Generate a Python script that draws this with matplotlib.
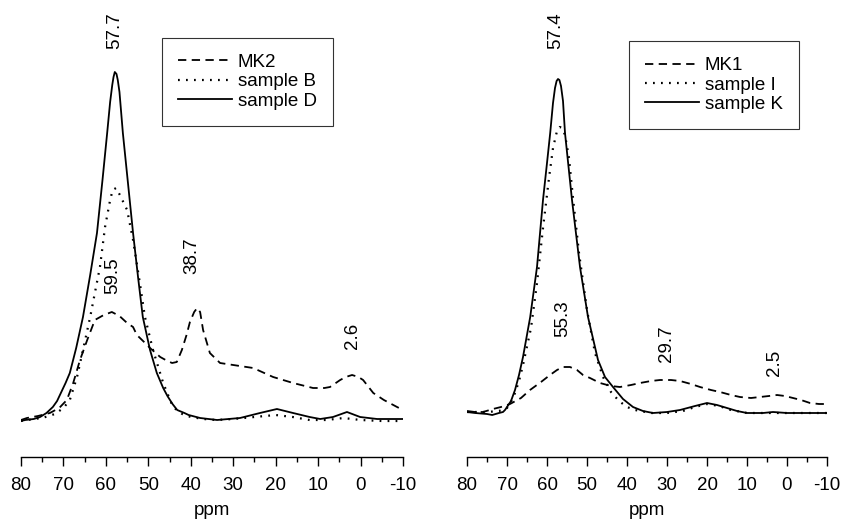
import matplotlib
matplotlib.use("Agg")
import matplotlib.pyplot as plt
from matplotlib.ticker import MultipleLocator

plt.rcParams["font.family"] = ["Liberation Sans", "DejaVu Sans"]
plt.rcParams["axes.unicode_minus"] = False

# ----- D A T A ----- (intensities in arbitrary units)

# left panel
mk2_ppm = [80, 78.6, 76, 73.2, 71, 69.2, 67.7, 66.1, 64.4, 62.6, 60.5, 58.6, 56.8, 55.0, 53.6, 52.7, 51, 49.6,
           47.2, 45.5, 44.4, 43.3, 42.1, 41, 40.2, 39.2, 38.5, 37.8, 37.1, 35.5, 33.1, 30.0, 25.3, 20.6, 15.9,
           11.2, 8.5, 7.2, 4.8, 3.5, 2.0, 0.5, -0.6, -3.0, -5.5, -8.6, -10]
mk2_int = [0, 2, 4, 7, 12, 20, 37, 60, 80, 100, 105, 108, 104, 97, 93, 85, 78, 72,
           63, 59, 57, 58, 70, 85, 98, 108, 112, 108, 90, 67, 57, 55, 52, 43, 37,
           32, 32, 33, 40, 43, 45, 43, 40, 27, 20, 13, 10]

b_ppm = [80, 77, 75, 72, 70, 68.5, 66.8, 65.4, 63.7, 62.6, 61.4, 60.2, 59.0, 58.4, 57.6, 56.7, 55.0, 53.6,
         52.0, 50.8, 48.9, 46.5, 44.2, 42, 40, 37, 34, 30, 25, 20, 16, 12, 8, 4, 0, -5, -10]
b_int = [-1, 1, 2, 6, 12, 20, 43, 70, 103, 127, 153, 193, 220, 230, 232, 225, 210, 180,
         137, 103, 70, 37, 13, 6, 3, 1, 0, 1, 3, 5, 3, 0, 0, 2, 0, -1, -1]

d_ppm = [80, 79, 77, 75.5, 74, 72.5, 71.5, 70.5, 69.5, 68.5, 67, 65.4, 63.7, 62.1, 60.8, 59.7, 59, 58.5, 58.2,
         57.9, 57.5, 57.2, 56.8, 56, 54.8, 53.6, 52.4, 51.3, 49.6, 48, 46.5, 45.5, 44.3, 43.2, 41.5, 40.5,
         37.8, 33.8, 28.4, 23.7, 19.7, 15.9, 12, 9.5, 6.5, 3.2, 0.1, -3.9, -10]
d_int = [-1, 0, 1, 3, 7, 13, 19, 28, 37, 47, 72, 103, 145, 187, 240, 287, 318, 335, 343,
         348, 346, 340, 328, 287, 237, 187, 142, 103, 70, 47, 32, 24, 16, 10, 7, 5,
         2, 0, 2, 7, 11, 7, 3, 1, 3, 8, 3, 1, 1]

# right panel
mk1_ppm = [80, 78, 76, 73.5, 71.5, 69.25, 66.5, 64.25, 61.5, 59.25, 57.5, 56, 54.25, 52.5, 51, 49.25, 46.75,
           44, 41.75, 39, 36.75, 34, 31.75, 29, 26.75, 24, 21.75, 19, 16.75, 14, 11.75, 9, 6.75, 4.5, 2.5,
           0.5, -1.5, -3.5, -5.75, -8, -10]
mk1_int = [2, 1, 1, 4, 6, 9, 15, 23, 31, 38, 43, 46, 46, 43, 38, 35, 30,
           27, 26, 28, 30, 32, 33, 33, 32, 29, 26, 23, 21, 18, 16, 15, 16, 17, 18,
           17, 15, 13, 10, 9, 9]

i_ppm = [80, 77, 75, 72, 70, 69, 68, 67, 66, 64, 62.5, 61, 59.5, 58.5, 57.5, 56.8, 56.2, 55.5, 54.5, 53.5,
         52, 50, 48, 46, 44, 42, 40, 38, 34, 30, 26, 23, 20, 17, 14, 10, 5, 0, -5, -10]
i_int = [1, 1, 1, 2, 5, 11, 20, 32, 48, 85, 130, 185, 235, 265, 282, 286, 285, 278, 255, 215,
         160, 103, 60, 36, 21, 12, 6, 3, 0, 0, 2, 6, 9, 7, 3, 0, 0, 0, 0, 0]

k_ppm = [80, 78, 75, 73.7, 72, 71, 70.5, 69, 68, 67, 66, 64.2, 62.5, 61, 60, 59.2, 58.5, 58, 57.6, 57.25,
         56.9, 56.5, 56, 55.5, 53.75, 51.75, 49.75, 47.25, 45.5, 43.5, 41, 38.5, 36, 33.5, 30, 26.75, 23,
         20, 17.5, 15, 12.5, 10, 6, 3.5, 0, -5, -10]
k_int = [1, 0, -1, -2, 0, 1, 3, 12, 23, 38, 56, 96, 146, 213, 250, 280, 310, 325, 332, 334,
         333, 327, 312, 280, 213, 146, 96, 53, 36, 26, 14, 6, 2, 0, 1, 3, 7,
         10, 8, 5, 2, 0, 0, 1, 0, 0, 0]

left_labels = ["MK2", "sample B", "sample D"]
right_labels = ["MK1", "sample I", "sample K"]

# peak labels: (text, ppm, intensity)
left_peaks = [("57.7", 57.85, 389), ("59.5", 58.3, 144), ("38.7", 39.7, 164), ("2.6", 2.0, 84)]
right_peaks = [("57.4", 57.75, 382), ("55.3", 56.0, 94), ("29.7", 30.0, 69), ("2.5", 3.0, 50)]

# ----- S T Y L E ----- ----- ----- ----- -----
dash_kw = dict(color="black", lw=1.3, linestyle=(0, (4.6, 3.0)))
dot_kw = dict(color="black", lw=1.6, linestyle=(0, (0.8, 2.8)))
solid_kw = dict(color="black", lw=1.3, linestyle="-")
FS = 13.5


def panel(ax, series, labels, peaks, ylim, leg_anchor):
    for (x, y), kw, lab in zip(series, [dash_kw, dot_kw, solid_kw], labels):
        ax.plot(x, y, label=lab, **kw)

    for txt, px, py in peaks:
        ax.text(px, py, txt, rotation=90, ha="center", va="center", fontsize=FS)

    ax.set_xlim(80, -10)
    ax.set_ylim(*ylim)
    for s in ["top", "left", "right"]:
        ax.spines[s].set_visible(False)
    ax.spines["bottom"].set_linewidth(1.0)
    ax.set_yticks([])
    ax.xaxis.set_major_locator(MultipleLocator(10))
    ax.xaxis.set_minor_locator(MultipleLocator(5))
    ax.tick_params(axis="x", which="major", length=6.5, width=1.0, labelsize=FS, pad=8)
    ax.tick_params(axis="x", which="minor", length=3.6, width=1.0)
    ax.set_xlabel("ppm", fontsize=FS, labelpad=6)
    ax.set_facecolor("none")

    leg = ax.legend(loc="upper left", bbox_to_anchor=leg_anchor, borderaxespad=0, fontsize=FS,
                    frameon=True, fancybox=False, handlelength=2.9, handletextpad=0.3,
                    labelspacing=0.12, borderpad=0.85)
    leg.get_frame().set_edgecolor("black")
    leg.get_frame().set_linewidth(0.8)


fig = plt.figure(figsize=(8.55, 5.24), dpi=100)
ax1 = fig.add_axes([21 / 855, 67 / 524, 382 / 855, 457 / 524])
ax2 = fig.add_axes([467 / 855, 67 / 524, 360 / 855, 457 / 524])

panel(ax1, [(mk2_ppm, mk2_int), (b_ppm, b_int), (d_ppm, d_int)], left_labels, left_peaks,
      (-37, 420), (0.369, 0.917))
panel(ax2, [(mk1_ppm, mk1_int), (i_ppm, i_int), (k_ppm, k_int)], right_labels, right_peaks,
      (-44, 413), (0.45, 0.91))

fig.savefig("out.png", dpi=100)
